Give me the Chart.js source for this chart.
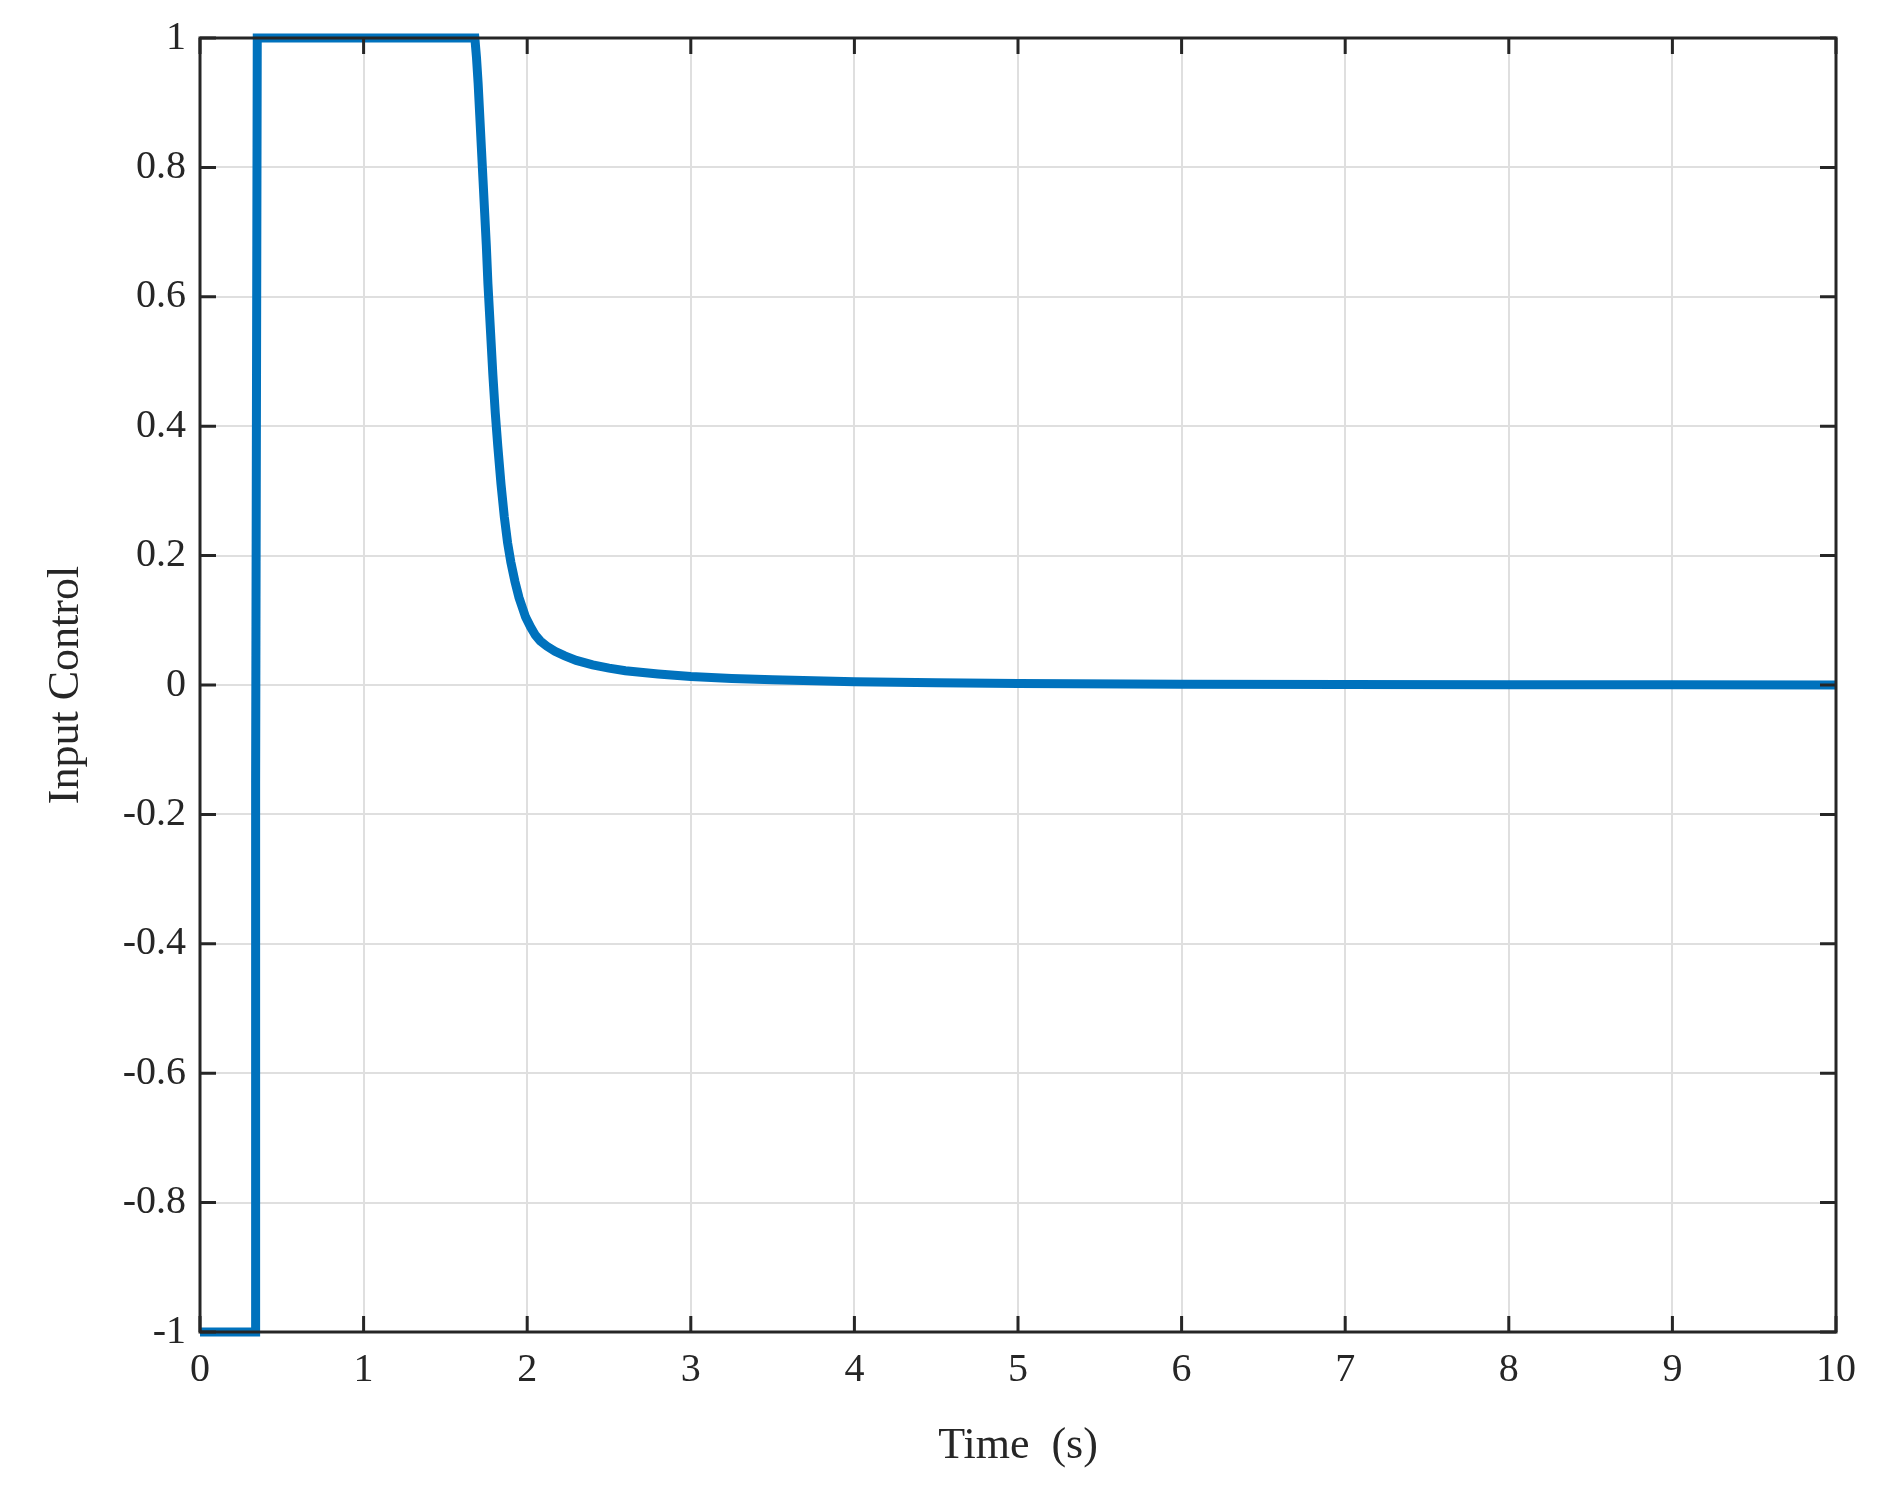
<!DOCTYPE html><html><head><style>body{margin:0;background:#fff}#w{width:1877px;height:1485px}</style>
<script src="https://cdn.jsdelivr.net/npm/chart.js@4"></script></head><body><div id="w"><canvas id="c"></canvas></div><script>
const timeS=[0,0.34,0.34,0.35,1.68,1.69,1.70,1.71,1.72,1.73,1.74,1.75,1.76,1.775,1.79,1.805,1.82,1.84,1.86,1.88,1.90,1.925,1.95,1.97,1.99,2.02,2.05,2.08,2.12,2.17,2.23,2.30,2.40,2.50,2.60,2.80,3.0,3.25,3.5,4.0,4.5,5.0,6.0,7.0,8.0,9.0,10.0];
const inputU=[-1,-1,-0.15,1,1,0.97,0.93,0.88,0.83,0.78,0.73,0.68,0.62,0.55,0.48,0.42,0.37,0.31,0.26,0.22,0.19,0.16,0.135,0.12,0.105,0.09,0.077,0.068,0.06,0.052,0.045,0.038,0.031,0.026,0.022,0.017,0.013,0.01,0.008,0.005,0.0035,0.0025,0.0012,0.0008,0.0005,0.0002,0];
const xTicks=[0,1,2,3,4,5,6,7,8,9,10];
const yTicks=[-1,-0.8,-0.6,-0.4,-0.2,0,0.2,0.4,0.6,0.8,1];
const F='"Liberation Serif","DejaVu Serif",serif';
const frame={id:'frame',afterDraw(ch){const a=ch.chartArea,c=ch.ctx,x=ch.scales.x,y=ch.scales.y;c.save();c.strokeStyle='#262626';c.lineWidth=3;c.strokeRect(a.left,a.top,a.right-a.left,a.bottom-a.top);c.beginPath();
xTicks.forEach(v=>{const p=x.getPixelForValue(v);c.moveTo(p,a.bottom);c.lineTo(p,a.bottom-16);c.moveTo(p,a.top);c.lineTo(p,a.top+16);});
yTicks.forEach(v=>{const p=y.getPixelForValue(v);c.moveTo(a.left,p);c.lineTo(a.left+16,p);c.moveTo(a.right,p);c.lineTo(a.right-16,p);});c.stroke();c.restore();}};
new Chart(document.getElementById('c'),{type:'line',data:{datasets:[{data:timeS.map((t,i)=>({x:t,y:inputU[i]})),borderColor:'#0072BD',borderWidth:9,pointRadius:0,tension:0,clip:false}]},
options:{responsive:true,maintainAspectRatio:false,animation:false,events:[],layout:{padding:{top:38,right:41,left:36,bottom:8}},plugins:{legend:{display:false},tooltip:{enabled:false}},
scales:{x:{type:'linear',min:0,max:10,afterBuildTicks(s){s.ticks=xTicks.map(v=>({value:v}));},afterFit(s){s.height=145;},border:{display:false},grid:{color:'#dfdfdf',lineWidth:2,drawTicks:false},ticks:{color:'#262626',font:{family:F,size:40},padding:14,maxRotation:0},title:{display:true,text:'Time  (s)',color:'#262626',font:{family:F,size:44},padding:{top:4}}},
y:{min:-1,max:1,afterBuildTicks(s){s.ticks=yTicks.map(v=>({value:v}));},afterFit(s){s.width=164;},border:{display:false},grid:{color:'#dfdfdf',lineWidth:2,drawTicks:false},ticks:{color:'#262626',font:{family:F,size:40},padding:14,callback:v=>String(v)},title:{display:true,text:'Input Control',color:'#262626',font:{family:F,size:44},padding:{bottom:8}}}}},plugins:[frame]});
</script></body></html>
